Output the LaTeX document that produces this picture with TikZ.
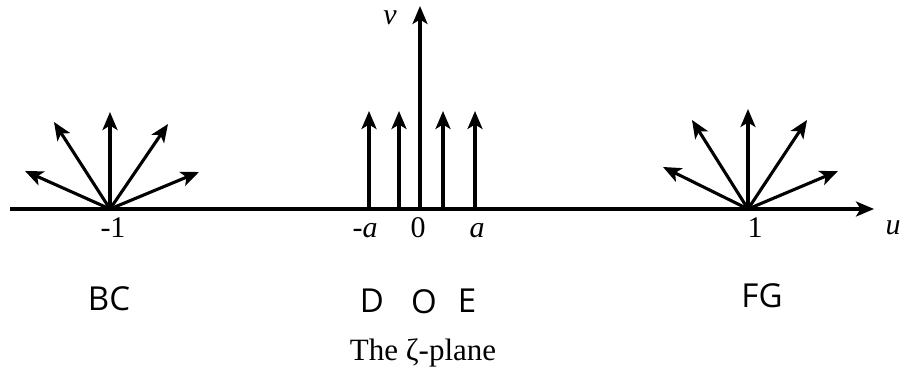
\documentclass[tikz,border=0pt]{standalone}
\usepackage{fontspec}
\setmainfont{Liberation Serif}
\newfontfamily\labsans{Open Sans}
\usetikzlibrary{arrows.meta}
\begin{document}
\begin{tikzpicture}[x=1pt,y=-1pt,
  vec/.style={line width=3.1pt,-{Stealth[length=18pt,width=15pt,inset=4.5pt]}},
  num/.style={inner sep=0pt,anchor=base,font=\fontsize{30}{34}\selectfont},
  reg/.style={inner sep=0pt,anchor=base,font=\labsans\fontsize{33}{38}\selectfont},
  captext/.style={inner sep=0pt,anchor=base,font=\fontsize{31}{36}\selectfont}]
\useasboundingbox (0,0) rectangle (901,374);
% axes
\coordinate (uL) at (10,209);
\coordinate (uR) at (874,209);
\coordinate (O) at (420,209);
\coordinate (vT) at (420,6);
\draw[vec] (uL) -- (uR);
\draw[vec] (O) -- (vT);
% left fan
\coordinate (Lc) at (110,209);
\coordinate (L1) at (25,171);
\coordinate (L2) at (54,122);
\coordinate (L3) at (110,112);
\coordinate (L4) at (168,124);
\coordinate (L5) at (199,172);
\foreach \t in {L1,L2,L3,L4,L5} \draw[vec] (Lc) -- (\t);
% right fan
\coordinate (Rc) at (748,209);
\coordinate (R1) at (663,167);
\coordinate (R2) at (692,120);
\coordinate (R3) at (748,109);
\coordinate (R4) at (807,120);
\coordinate (R5) at (838,171);
\foreach \t in {R1,R2,R3,R4,R5} \draw[vec] (Rc) -- (\t);
% central vectors
\foreach \n/\x in {A/369,B/399,C/443,D/475}{
  \coordinate (\n b) at (\x,209);
  \coordinate (\n t) at (\x,111);
  \draw[vec] (\n b) -- (\n t);
}
% labels
\node[num] (lv) at (390,25) {\textit{v}};
\node[num] (lu) at (893,234) {\textit{u}};
\node[num] (lm1) at (113,237) {-1};
\node[num] (lp1) at (755,237) {1};
\node[num] (lma) at (365,237) {-\textit{a}};
\node[num] (l0) at (418,237) {0};
\node[num] (la) at (477,237) {\textit{a}};
\node[reg] (BC) at (109,310) {BC};
\node[reg] (Dl) at (372,312) {D};
\node[reg] (Ol) at (424,313) {O};
\node[reg] (El) at (467,312) {E};
\node[reg] (FG) at (762,307) {FG};
\node[captext] (title) at (423,360) {The ζ-plane};
\end{tikzpicture}
\end{document}
